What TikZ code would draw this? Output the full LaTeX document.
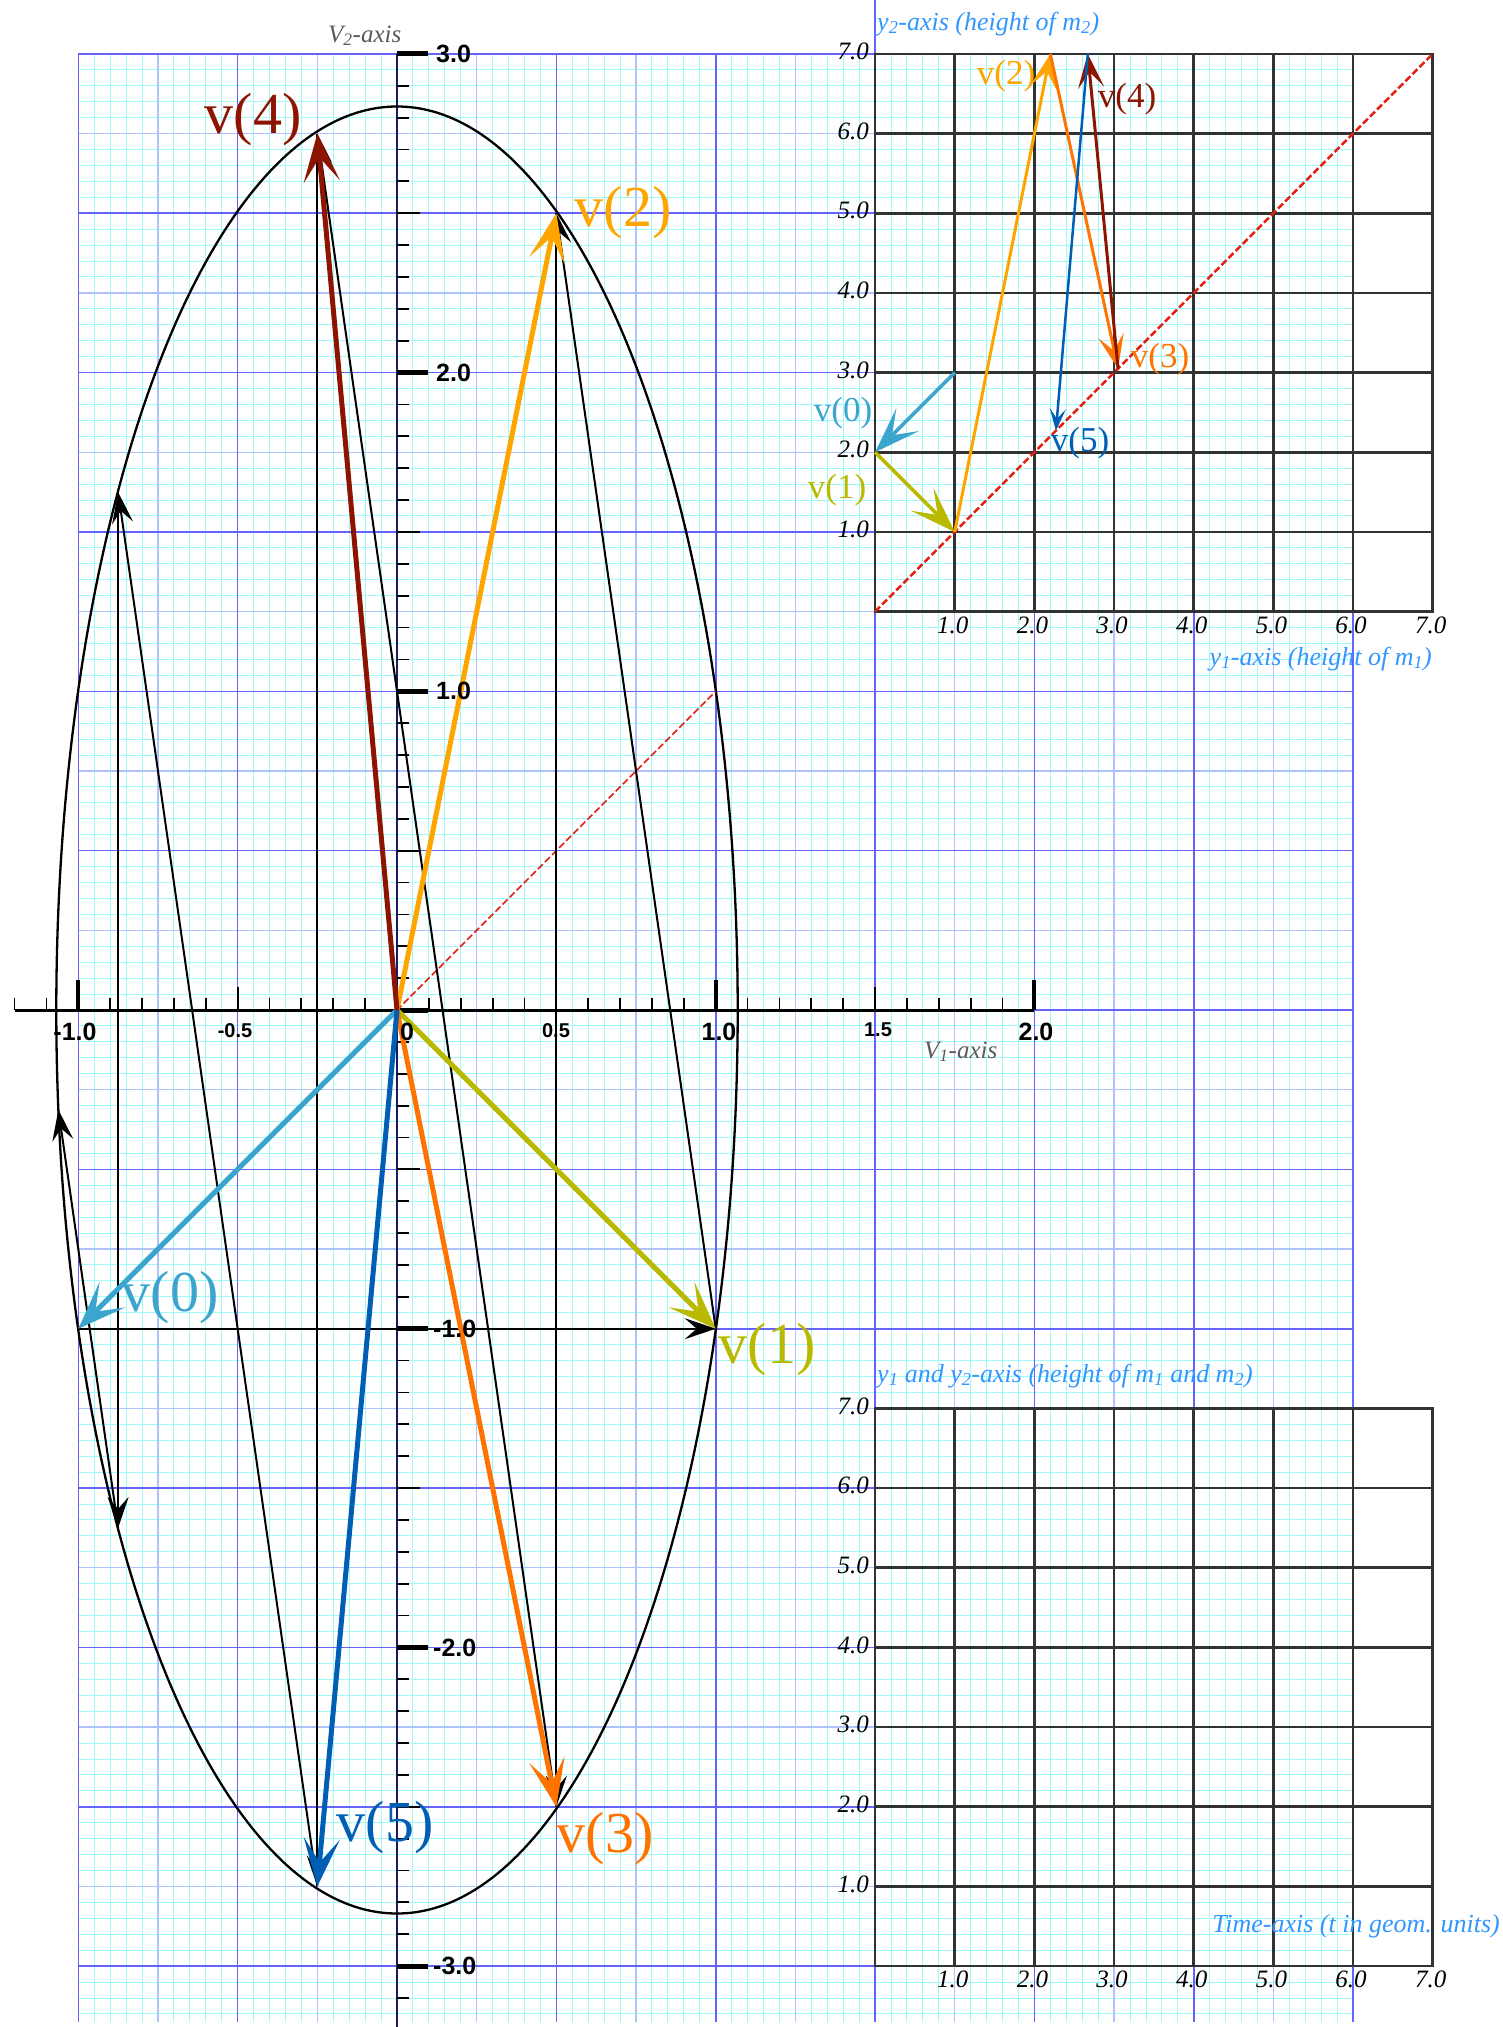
\documentclass[tikz,border=0pt]{standalone}
\usepackage{fontspec}
\setmainfont{Liberation Serif}
\newfontfamily\tickfont{Liberation Sans}
\usetikzlibrary{arrows.meta}
\definecolor{gcyan}{RGB}{160,250,250}
\definecolor{glight}{RGB}{175,195,250}
\definecolor{gblue}{RGB}{100,100,250}
\definecolor{axblue}{RGB}{25,25,100}
\definecolor{cvzero}{RGB}{60,165,205}
\definecolor{cvone}{RGB}{185,185,0}
\definecolor{cvtwo}{RGB}{255,165,0}
\definecolor{cvthree}{RGB}{255,115,0}
\definecolor{cvfour}{RGB}{140,20,0}
\definecolor{cvfive}{RGB}{0,95,180}
\definecolor{labblue}{RGB}{50,150,255}
\definecolor{axgray}{RGB}{90,90,90}
\definecolor{dashred}{RGB}{230,30,15}
\definecolor{igridc}{RGB}{50,50,50}
\tikzset{
  mainlab/.style={inner sep=0pt, font=\fontsize{58}{58}\selectfont},
  inlab/.style={inner sep=0pt, font=\fontsize{35}{35}\selectfont},
  bluelab/.style={inner sep=0pt, text=labblue, font=\itshape\fontsize{26}{26}\selectfont},
  itick/.style={inner sep=0pt, font=\itshape\fontsize{25}{25}\selectfont},
  vtick/.style={inner sep=0pt, font=\tickfont\bfseries\fontsize{25}{25}\selectfont},
  vtickh/.style={inner sep=0pt, font=\tickfont\bfseries\fontsize{20}{20}\selectfont},
  axlab/.style={inner sep=0pt, text=axgray, font=\itshape\fontsize{25}{25}\selectfont},
  traj/.style={line width=2pt, -{Stealth[length=31pt,width=21pt,inset=12pt]}},
  varrow/.style={line width=5pt, -{Stealth[length=48pt,width=36pt,inset=24pt]}},
  iarrowbig/.style={line width=3.5pt, -{Stealth[length=46pt,width=32pt,inset=22pt]}},
  iarrowmid/.style={line width=3pt, -{Stealth[length=34pt,width=26pt,inset=16pt]}},
  iarrowsmall/.style={line width=2.5pt, -{Stealth[length=22pt,width=16pt,inset=10pt]}},
  igrid/.style={igridc, line width=2.6pt, line cap=rect},
  rdash/.style={dashred, dash pattern=on 7pt off 3pt},
}
\begin{document}
\begin{tikzpicture}[x=1pt,y=-1pt]
\useasboundingbox (0,0) rectangle (1503,2027);
\fill[white] (0,0) rectangle (1503,2027);

% ---------------- main V1-V2 plot ----------------
\begin{scope}[shift={(397,1010)},x=318.7pt,y=318.7pt]
  \begin{scope}
    \clip (-1.005,-3.175) rectangle (3.005,3.005);
    \foreach \i in {-20,...,60}{\draw[gcyan,line width=1pt] (\i*0.05,-3.2) -- (\i*0.05,3);}
    \foreach \j in {-64,...,60}{\draw[gcyan,line width=1pt] (-1,\j*0.05) -- (3,\j*0.05);}
    \foreach \i in {-4,...,12}{\draw[glight,line width=1.3pt] (\i*0.25,-3.2) -- (\i*0.25,3);}
    \foreach \j in {-13,...,12}{\draw[glight,line width=1.3pt] (-1,\j*0.25) -- (3,\j*0.25);}
    \foreach \i in {-2,...,6}{\draw[gblue,line width=1.6pt] (\i*0.5,-3.2) -- (\i*0.5,3);}
    \foreach \j in {-6,...,6}{\draw[gblue,line width=1.6pt] (-1,\j*0.5) -- (3,\j*0.5);}
  \end{scope}
  \draw[gblue,line width=1.6pt] (1.5,3) -- (1.5,3.25);

  \coordinate (O) at (0,0);
  \coordinate (P0) at (-1,-1);
  \coordinate (P1) at (1,-1);
  \coordinate (P2) at (0.5,2.5);
  \coordinate (P3) at (0.5,-2.5);
  \coordinate (P4) at (-0.25,2.75);
  \coordinate (P5) at (-0.25,-2.75);
  \coordinate (P6) at (-0.875,1.625);
  \coordinate (P7) at (-0.875,-1.625);
  \coordinate (P8) at (-1.0625,-0.3125);
  \coordinate (D1) at (1,1);

  % axes
  \draw[axblue,line width=1.8pt] (0,3) -- (0,-3.2);
  \draw[line width=3pt] (-1.2,0) -- (2,0);
  \foreach \i in {-12,...,20}{
    \pgfmathtruncatemacro\m{mod(abs(\i),10)}
    \ifnum\m=0
      \ifnum\i=0\relax\else\draw[line width=4pt] (\i/10,0) -- ++(0pt,30pt);\fi
    \else
      \ifnum\m=5 \draw[line width=1.8pt] (\i/10,0) -- ++(0pt,23pt);
      \else \draw[line width=1.8pt] (\i/10,0) -- ++(0pt,12pt);\fi
    \fi
  }
  \foreach \j in {-31,...,30}{
    \pgfmathtruncatemacro\m{mod(abs(\j),10)}
    \ifnum\m=0
      \draw[line width=5pt] (0,\j/10) -- ++(31pt,0pt);
    \else
      \ifnum\m=5 \draw[line width=1.8pt] (0,\j/10) -- ++(23pt,0pt);
      \else \draw[line width=1.8pt] (0,\j/10) -- ++(12pt,0pt);\fi
    \fi
  }

  % ellipse
  \draw[line width=2.3pt] (O) ellipse [x radius=340.7pt, y radius=903.5pt];
  % diagonal
  \draw[rdash,line width=1.5pt] (P0) -- (D1);
  % trajectory
  \draw[traj] (P0) -- (P1);
  \draw[traj] (P1) -- (P2);
  \draw[traj] (P2) -- (P3);
  \draw[traj] (P3) -- (P4);
  \draw[traj] (P4) -- (P5);
  \draw[traj] (P5) -- (P6);
  \draw[traj] (P6) -- (P7);
  \draw[traj] (P7) -- (P8);
  % velocity vectors
  \draw[varrow,cvzero] (O) -- (P0);
  \draw[varrow,cvone] (O) -- (P1);
  \draw[varrow,cvtwo] (O) -- (P2);
  \draw[varrow,cvthree] (O) -- (P3);
  \draw[varrow,cvfive] (O) -- (P5);
  \draw[varrow,cvfour] (O) -- (P4);
\end{scope}

% main tick labels
\node[vtick,anchor=north] (tm10) at (75,1023) {-1.0};
\node[vtickh,anchor=north] (tm05) at (235,1023) {-0.5};
\node[vtick,anchor=north] (t00) at (407,1023) {0};
\node[vtickh,anchor=north] (t05) at (556,1023) {0.5};
\node[vtick,anchor=north] (t10) at (719,1023) {1.0};
\node[vtickh,anchor=north] (t15) at (878,1023) {1.5};
\node[vtick,anchor=north] (t20) at (1036,1023) {2.0};
\node[vtick,anchor=west] (s30) at (436,54) {3.0};
\node[vtick,anchor=west] (s20) at (436,372.6) {2.0};
\node[vtick,anchor=west] (s10) at (436,691.3) {1.0};
\node[vtick,anchor=west] (sm10) at (433,1328.7) {-1.0};
\node[vtick,anchor=west] (sm20) at (433,1647.4) {-2.0};
\node[vtick,anchor=west] (sm30) at (433,1966) {-3.0};
\node[axlab,anchor=base west] (v2ax) at (328,42) {V\textsubscript{2}-axis};
\node[axlab,anchor=base west] (v1ax) at (924,1058) {V\textsubscript{1}-axis};

% main vector labels
\node[mainlab,text=cvfour] (L4) at (253,120) {v(4)};
\node[mainlab,text=cvtwo] (L2) at (623,213) {v(2)};
\node[mainlab,text=cvzero] (L0) at (170,1298) {v(0)};
\node[mainlab,text=cvone] (L1) at (767,1350) {v(1)};
\node[mainlab,text=cvfive] (L5) at (385,1828) {v(5)};
\node[mainlab,text=cvthree] (L3) at (605,1839) {v(3)};

% ---------------- inset 1: y1-y2 plane ----------------
\begin{scope}[shift={(875.05,611.6)},x=79.675pt,y=79.675pt]
  \foreach \k in {0,...,7}{\draw[igrid] (\k,0) -- (\k,7); \draw[igrid] (0,\k) -- (7,\k);}
  \coordinate (A0) at (0,0);
  \coordinate (A7) at (7,7);
  \coordinate (Q0) at (1,3);
  \coordinate (Q1) at (0,2);
  \coordinate (Q2) at (1,1);
  \coordinate (Q3) at (2.2,7);
  \coordinate (Q4) at (3.05,3.05);
  \coordinate (Q5) at (2.67,7);
  \coordinate (Q6) at (2.27,2.27);
  \draw[rdash,line width=2.5pt] (A0) -- (A7);
  \draw[iarrowbig,cvzero] (Q0) -- (Q1);
  \draw[iarrowbig,cvone] (Q1) -- (Q2);
  \draw[iarrowmid,cvtwo] (Q2) -- (Q3);
  \draw[iarrowmid,cvthree] (Q3) -- (Q4);
  \draw[iarrowmid,cvfour] (Q4) -- (Q5);
  \draw[iarrowsmall,cvfive] (Q5) -- (Q6);
  \foreach \k in {1,...,7}{
    \node[itick,anchor=north,xshift=-2pt,yshift=-5pt] (ax\k) at (\k,0) {\k.0};
    \node[itick,anchor=east,xshift=-6pt,yshift=2.5pt] (ay\k) at (0,\k) {\k.0};
  }
\end{scope}
\node[inlab,text=cvtwo] (M2) at (1006,76) {v(2)};
\node[inlab,text=cvfour] (M4) at (1127,99) {v(4)};
\node[inlab,text=cvthree] (M3) at (1160,359) {v(3)};
\node[inlab,text=cvfive] (M5) at (1080,443) {v(5)};
\node[inlab,text=cvzero] (M0) at (843,413) {v(0)};
\node[inlab,text=cvone] (M1) at (837,490) {v(1)};
\node[bluelab,anchor=base west] (y2lab) at (877,30) {y\textsubscript{2}-axis (height of m\textsubscript{2})};
\node[bluelab,anchor=base east] (y1lab) at (1432,665) {y\textsubscript{1}-axis (height of m\textsubscript{1})};

% ---------------- inset 2: heights vs time ----------------
\begin{scope}[shift={(875.05,1966.1)},x=79.675pt,y=79.675pt]
  \foreach \k in {0,...,7}{\draw[igrid] (\k,0) -- (\k,7); \draw[igrid] (0,\k) -- (7,\k);}
  \foreach \k in {1,...,7}{
    \node[itick,anchor=north,xshift=-2pt,yshift=-5pt] (bx\k) at (\k,0) {\k.0};
    \node[itick,anchor=east,xshift=-6pt,yshift=2.5pt] (by\k) at (0,\k) {\k.0};
  }
\end{scope}
\node[bluelab,anchor=base west] (hlab) at (877,1382) {y\textsubscript{1} and y\textsubscript{2}-axis (height of m\textsubscript{1} and m\textsubscript{2})};
\node[bluelab,anchor=base east] (tlab) at (1500,1932) {Time-axis (t in geom. units)};
\end{tikzpicture}
\end{document}
